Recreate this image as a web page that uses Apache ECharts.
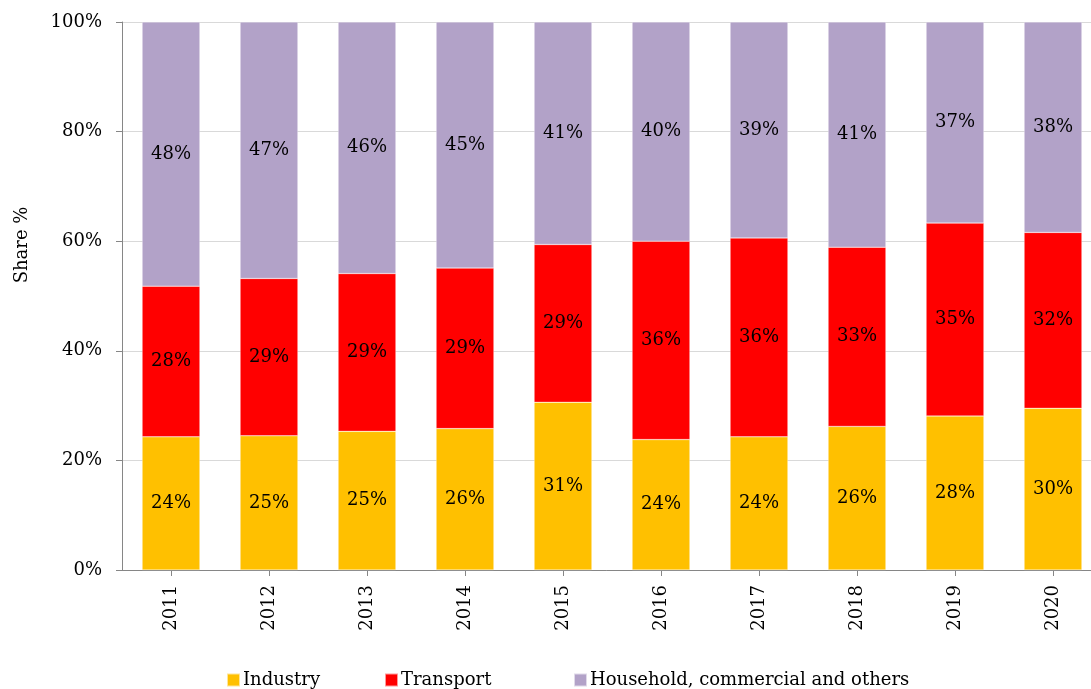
<!DOCTYPE html>
<html>
<head>
<meta charset="utf-8">
<script src="https://cdn.jsdelivr.net/npm/echarts@6/dist/echarts.min.js"></script>
<style>
  html, body { margin: 0; padding: 0; background: #fff; }
  #chart { width: 1091px; height: 689px; }
</style>
</head>
<body>
<div id="chart"></div>
<script>
// share of final consumption by sector, %
var years = ['2011', '2012', '2013', '2014', '2015', '2016', '2017', '2018', '2019', '2020']
var industry = [24.3, 24.5, 25.3, 25.8, 30.6, 23.8, 24.3, 26.2, 28.1, 29.5]
var transport = [27.5, 28.7, 28.8, 29.3, 28.8, 36.2, 36.3, 32.7, 35.2, 32.1]
var household = [48.2, 46.8, 45.9, 44.9, 40.6, 40.0, 39.4, 41.1, 36.7, 38.4]

var FONT = 'DejaVu Serif'

var chart = echarts.init(document.getElementById('chart'))

function barSeries(name, data) {
  return {
    name: name,
    type: 'bar',
    stack: 'share',
    barCategoryGap: '41%',
    data: data,
    itemStyle: {
      borderColor: 'rgba(255,255,255,0.6)',
      borderWidth: 0.5
    },
    label: {
      show: true,
      position: 'inside',
      fontFamily: FONT,
      fontSize: 18,
      color: '#000',
      formatter: function (p) {
        return Math.round(p.value) + '%'
      }
    }
  }
}

function legendAt(name, left) {
  return {
    data: [name],
    left: left,
    top: 671,
    icon: 'rect',
    itemWidth: 13,
    itemHeight: 13,
    itemGap: 3,
    padding: 0,
    textStyle: { fontFamily: FONT, fontSize: 18, color: '#000', padding: [0, 0, 0, -2] }
  }
}

chart.setOption({
  animation: false,
  color: ['#FFC000', '#FF0000', '#B2A2C8'],
  grid: {
    left: 122,
    width: 980, // plot runs past the right edge of the picture
    top: 22,
    height: 548,
    outerBoundsMode: 'none'
  },
  legend: [
    legendAt('Industry', 226),
    legendAt('Transport', 384),
    legendAt('Household, commercial and others', 573)
  ],
  graphic: [{
    type: 'text',
    x: 22,
    y: 245,
    rotation: Math.PI / 2,
    style: {
      text: 'Share %',
      fontFamily: FONT,
      fontSize: 18,
      fill: '#000',
      textAlign: 'center',
      textVerticalAlign: 'middle'
    }
  }],
  xAxis: {
    type: 'category',
    data: years,
    axisLine: { lineStyle: { color: '#868686', width: 1 } },
    axisTick: { show: true, alignWithLabel: true, length: 6, lineStyle: { color: '#868686' } },
    axisLabel: {
      rotate: 90,
      margin: 15,
      fontFamily: FONT,
      fontSize: 18,
      color: '#000'
    }
  },
  yAxis: {
    type: 'value',
    min: 0,
    max: 100,
    interval: 20,
    axisLine: { show: true, lineStyle: { color: '#868686', width: 1 } },
    axisTick: { show: true, length: 6, lineStyle: { color: '#868686' } },
    axisLabel: {
      formatter: '{value}%',
      margin: 20,
      fontFamily: FONT,
      fontSize: 18,
      color: '#000'
    },
    splitLine: { lineStyle: { color: '#D9D9D9', width: 1 } }
  },
  series: [
    barSeries('Industry', industry),
    barSeries('Transport', transport),
    barSeries('Household, commercial and others', household)
  ]
})
</script>
</body>
</html>
